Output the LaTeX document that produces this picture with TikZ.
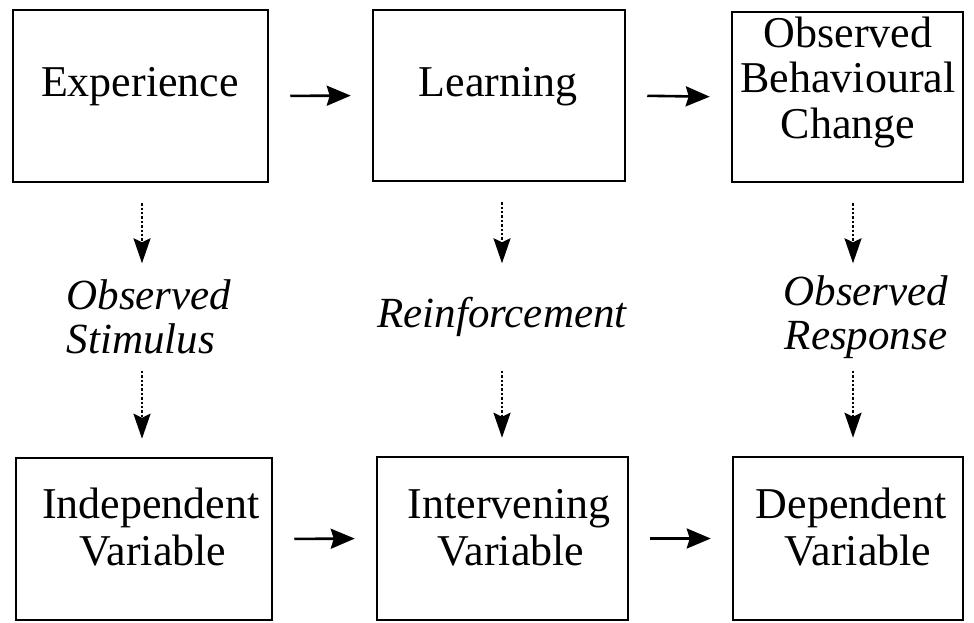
\documentclass[tikz,border=0pt]{standalone}
\usepackage{fontspec}
\setmainfont{Liberation Serif}
\usetikzlibrary{arrows.meta}
\begin{document}
\begin{tikzpicture}[x=1pt,y=-1pt,
  box/.style={draw,line width=2.5pt,inner sep=0pt},
  main/.style={font=\fontsize{44}{46}\selectfont,inner sep=0pt,anchor=base},
  lab/.style={font=\fontsize{43}{44}\selectfont\itshape,inner sep=0pt,minimum height=107pt},
  harrow/.style={line width=2.6pt,-{Stealth[length=24pt,width=20pt,inset=3pt]},shorten <=21pt,shorten >=21pt},
  darrow/.style={line width=2.4pt,dash pattern=on 2.4pt off 2pt,-{Stealth[length=25pt,width=17pt,inset=4pt]}}
]
\useasboundingbox (0,0) rectangle (974,623);
% boxes
\node[box,minimum width=255pt,minimum height=172pt] (exp) at (140.5,96) {};
\node[box,minimum width=252pt,minimum height=171pt] (lrn) at (499,95.5) {};
\node[box,minimum width=231pt,minimum height=170pt] (obc) at (847.5,97) {};
\node[box,minimum width=256pt,minimum height=162pt] (ind) at (144,539) {};
\node[box,minimum width=251pt,minimum height=163pt] (itv) at (502.5,538.5) {};
\node[box,minimum width=230pt,minimum height=163pt] (dep) at (848,538.5) {};
% box texts
\node[main] (expT) at (140,97) {Experience};
\node[main] (lrnT) at (498,97) {Learning};
\node[main] (obcA) at (848,48) {Observed};
\node[main] (obcB) at (848,93) {Behavioural};
\node[main] (obcC) at (848,139) {Change};
\node[main] (indA) at (151,518) {Independent};
\node[main] (indB) at (153,565) {Variable};
\node[main] (itvA) at (509,518) {Intervening};
\node[main] (itvB) at (511,565) {Variable};
\node[main] (depA) at (851,518) {Dependent};
\node[main] (depB) at (858,565) {Variable};
% labels
\node[lab,align=left] (stim) at (149,317) {Observed\\Stimulus};
\node[lab,align=center] (rein) at (502,317) {Reinforcement};
\node[lab,align=center] (resp) at (866,317) {Observed\\Response};
% columns for dotted arrows
\coordinate (c1) at (142,0);
\coordinate (c2) at (502,0);
\coordinate (c3) at (853,0);
% horizontal arrows
\draw[harrow] (exp.east) -- (lrn.west);
\draw[harrow] (lrn.east) -- (obc.west);
\draw[harrow] (ind.east) -- (itv.west);
\draw[harrow] (itv.east) -- (dep.west);
% dotted arrows
\draw[darrow,shorten <=20pt] (exp.south -| c1) -- (stim.north -| c1);
\draw[darrow,shorten >=18pt] (stim.south -| c1) -- (ind.north -| c1);
\draw[darrow,shorten <=20pt] (lrn.south -| c2) -- (rein.north -| c2);
\draw[darrow,shorten >=18pt] (rein.south -| c2) -- (itv.north -| c2);
\draw[darrow,shorten <=20pt] (obc.south -| c3) -- (resp.north -| c3);
\draw[darrow,shorten >=18pt] (resp.south -| c3) -- (dep.north -| c3);
\end{tikzpicture}
\end{document}
